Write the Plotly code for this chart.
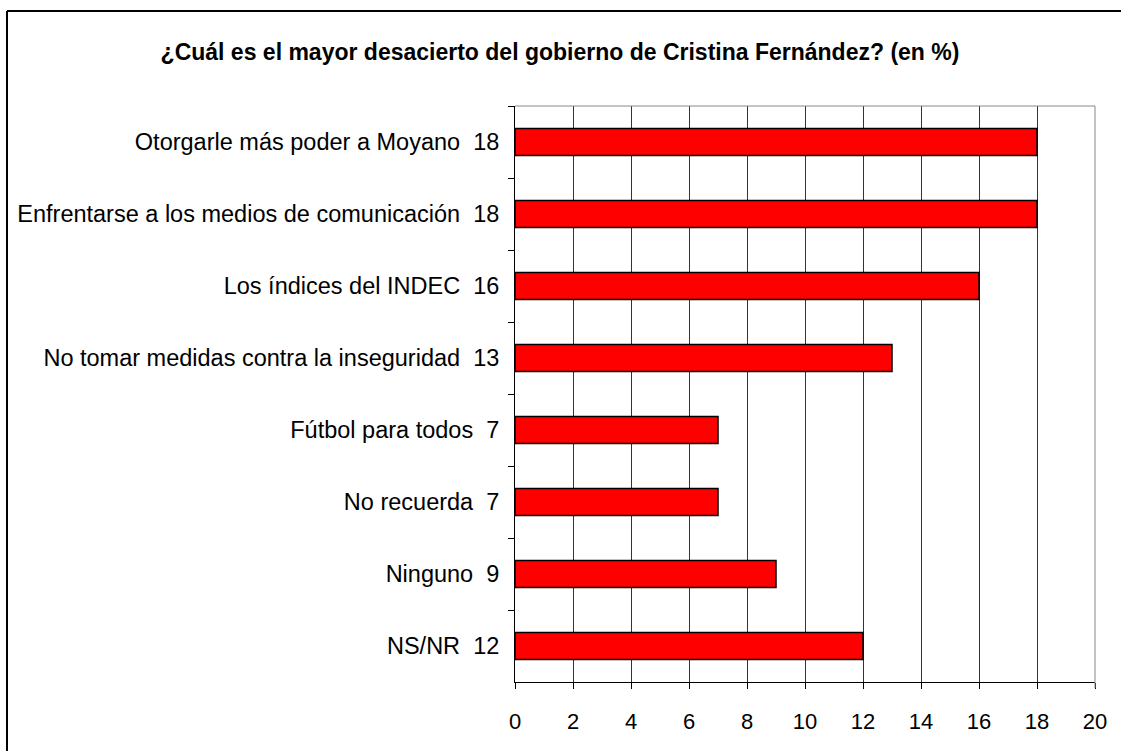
import plotly.graph_objects as go

categories = [
    "Otorgarle más poder a Moyano",
    "Enfrentarse a los medios de comunicación",
    "Los índices del INDEC",
    "No tomar medidas contra la inseguridad",
    "Fútbol para todos",
    "No recuerda",
    "Ninguno",
    "NS/NR",
]
values = [18, 18, 16, 13, 7, 7, 9, 12]
x_ticks = list(range(0, 21, 2))
title_text = "¿Cuál es el mayor desacierto del gobierno de Cristina Fernández? (en %)"

labels = [f"{c}  {v}" for c, v in zip(categories, values)]

FONT = "Liberation Sans Narrow, Arial Narrow, Liberation Sans, Arial, sans-serif"

fig = go.Figure(
    go.Bar(
        x=values,
        y=labels,
        orientation="h",
        marker=dict(color="#FF0000", line=dict(color="black", width=1.5)),
        hoverinfo="skip",
    )
)

fig.update_layout(
    width=1121,
    height=751,
    margin=dict(l=515, r=26, t=106, b=69),
    paper_bgcolor="white",
    plot_bgcolor="white",
    bargap=0.625,
    showlegend=False,
    title=dict(
        text=title_text,
        x=560 / 1121,
        xanchor="center",
        y=1 - 52 / 751,
        yanchor="middle",
        font=dict(family="Liberation Sans, Arial, sans-serif", size=23, color="black", weight="bold"),
    ),
    font=dict(family=FONT, color="black"),
    shapes=[
        # outer frame (top and left edges visible)
        dict(type="line", xref="paper", yref="paper",
             x0=-508 / 580, x1=1 + 26 / 580, y0=1 + 95 / 576, y1=1 + 95 / 576,
             line=dict(color="black", width=2), layer="below"),
        dict(type="line", xref="paper", yref="paper",
             x0=-508 / 580, x1=-508 / 580, y0=-69 / 576, y1=1 + 95 / 576,
             line=dict(color="black", width=2), layer="below"),
        # plot-area frame (top and right, gray)
        dict(type="line", xref="paper", yref="paper", x0=0, x1=1, y0=1, y1=1,
             line=dict(color="#888888", width=1)),
        dict(type="line", xref="paper", yref="paper", x0=1, x1=1, y0=-6 / 576, y1=1,
             line=dict(color="#888888", width=1)),
    ],
)

fig.update_xaxes(
    range=[0, 20],
    tickvals=x_ticks,
    ticktext=[str(t) for t in x_ticks],
    showgrid=True,
    gridcolor="#333333",
    gridwidth=1,
    showline=True,
    linecolor="black",
    linewidth=1,
    ticks="outside",
    ticklen=6,
    tickcolor="black",
    tickfont=dict(family=FONT, size=22, color="black"),
    ticklabelstandoff=14,
    zeroline=False,
    fixedrange=True,
)

fig.update_yaxes(
    categoryorder="array",
    categoryarray=labels,
    autorange="reversed",
    showline=True,
    linecolor="black",
    linewidth=1,
    ticks="outside",
    tickson="boundaries",
    ticklen=6,
    tickcolor="black",
    tickfont=dict(family=FONT, size=23.5, color="black"),
    ticklabelstandoff=10,
    showgrid=False,
    fixedrange=True,
)

fig.write_html(
    "out.html",
    config={"displayModeBar": False},
    post_script=(
        "document.body.style.margin='0';"
        "document.documentElement.style.overflow='hidden';"
        "document.body.style.overflow='hidden';"
    ),
)
